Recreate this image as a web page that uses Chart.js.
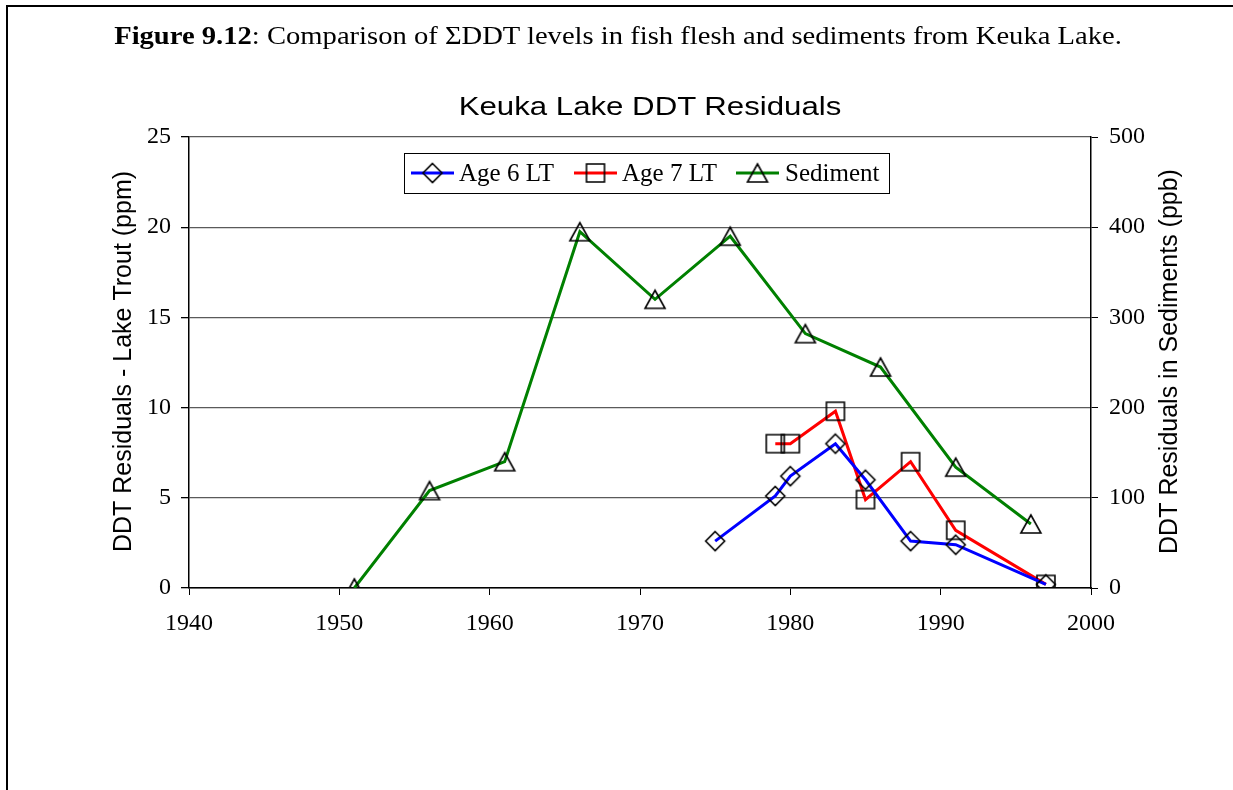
<!DOCTYPE html>
<html>
<head>
<meta charset="utf-8">
<title>Keuka Lake DDT Residuals</title>
<script src="https://cdn.jsdelivr.net/npm/chart.js@4/dist/chart.umd.min.js"></script>
<style>
  html, body { margin: 0; padding: 0; background: #fff; }
  #wrap { position: relative; width: 1233px; height: 790px; overflow: hidden; }
  #frame { position: absolute; left: 6px; top: 5px; width: 1300px; height: 900px;
           border-left: 2px solid #000; border-top: 2px solid #000; }
  .label { position: absolute; white-space: nowrap; line-height: 1; color: #000; }
  #caption { left: 618px; top: 23px; font-family: "Liberation Serif", "Times New Roman", serif;
             font-size: 26px; transform: translateX(-50%) scaleX(1.1); }
  #chartTitle { left: 650px; top: 93px; font-family: "Liberation Sans", Arial, sans-serif;
                font-size: 26px; transform: translateX(-50%) scaleX(1.2); }
  canvas { position: absolute; left: 0; top: 0; }
</style>
</head>
<body>
<div id="wrap">
  <div id="frame"></div>
  <canvas id="chart" width="1233" height="790"></canvas>
  <div id="caption" class="label"><b>Figure 9.12</b>: Comparison of ΣDDT levels in fish flesh and sediments from Keuka Lake.</div>
  <div id="chartTitle" class="label">Keuka Lake DDT Residuals</div>
</div>
<script>
// Sampling years and measured values
const age6Years = [1975, 1979, 1980, 1983, 1985, 1988, 1991, 1997];
const age6Ppm   = [2.6, 5.1, 6.2, 8.0, 6.0, 2.6, 2.4, 0.2];

const age7Years = [1979, 1980, 1983, 1985, 1988, 1991, 1997];
const age7Ppm   = [8.0, 8.0, 9.8, 4.9, 7.0, 3.2, 0.2];

const sedimentYears = [1951, 1956, 1961, 1966, 1971, 1976, 1981, 1986, 1991, 1996];
const sedimentPpb   = [0, 108, 140, 395, 320, 390, 282, 245, 134, 71];

const seriesNames = ['Age 6 LT', 'Age 7 LT', 'Sediment'];
const yearTicks   = [1940, 1950, 1960, 1970, 1980, 1990, 2000];
const leftAxisTitle  = 'DDT Residuals - Lake Trout (ppm)';
const rightAxisTitle = 'DDT Residuals in Sediments (ppb)';

// Hollow black marker glyphs used as point styles
function markerCanvas(kind) {
  const s = 24, m = s / 2;
  const c = document.createElement('canvas');
  c.width = s; c.height = s;
  const g = c.getContext('2d');
  g.strokeStyle = '#000';
  g.lineWidth = 1.6;
  g.beginPath();
  if (kind === 'diamond') {
    g.moveTo(m, m - 9.5); g.lineTo(m + 9.5, m); g.lineTo(m, m + 9.5); g.lineTo(m - 9.5, m);
  } else if (kind === 'square') {
    g.rect(m - 9, m - 9, 18, 18);
  } else {
    g.moveTo(m, m - 9); g.lineTo(m + 10, m + 9); g.lineTo(m - 10, m + 9);
  }
  g.closePath();
  g.stroke();
  return c;
}
const markers = [markerCanvas('diamond'), markerCanvas('square'), markerCanvas('triangle')];

const toPoints = (xs, ys) => xs.map((x, i) => ({ x: x, y: ys[i] }));

const serif = 'Liberation Serif';
const sans = 'Liberation Sans';

// Framed legend drawn inside the plot, each entry shows line + marker
const framedLegend = {
  id: 'framedLegend',
  afterDatasetsDraw(chart) {
    const ctx = chart.ctx;
    const box = { x: 404, y: 153, w: 485, h: 40 };
    const entries = [
      { lineX: 411, textX: 459 },
      { lineX: 574, textX: 622 },
      { lineX: 736, textX: 785 }
    ];
    const cy = box.y + box.h / 2;
    ctx.save();
    ctx.fillStyle = '#fff';
    ctx.fillRect(box.x, box.y, box.w, box.h);
    ctx.strokeStyle = '#000';
    ctx.lineWidth = 1;
    ctx.strokeRect(box.x + 0.5, box.y + 0.5, box.w, box.h);
    entries.forEach((e, i) => {
      const ds = chart.data.datasets[i];
      ctx.strokeStyle = ds.borderColor;
      ctx.lineWidth = 3;
      ctx.beginPath();
      ctx.moveTo(e.lineX, cy);
      ctx.lineTo(e.lineX + 43, cy);
      ctx.stroke();
      const mk = ds.pointStyle;
      ctx.drawImage(mk, e.lineX + 21.5 - mk.width / 2, cy - mk.height / 2);
      ctx.fillStyle = '#000';
      ctx.font = '25px "' + serif + '"';
      ctx.textBaseline = 'middle';
      ctx.textAlign = 'left';
      ctx.fillText(seriesNames[i], e.textX, cy + 1);
    });
    ctx.restore();
  }
};

// Both axis titles read bottom-to-top, set beside their tick labels
const axisTitles = {
  id: 'axisTitles',
  afterDraw(chart) {
    const ctx = chart.ctx;
    const area = chart.chartArea;
    const cy = (area.top + area.bottom) / 2 - 1;
    ctx.save();
    ctx.fillStyle = '#000';
    ctx.font = '25px "' + sans + '"';
    ctx.textAlign = 'center';
    ctx.textBaseline = 'alphabetic';
    [[chart.scales.y.left + 131, leftAxisTitle], [chart.scales.y2.left + 86, rightAxisTitle]]
      .forEach(([bx, text]) => {
        ctx.save();
        ctx.translate(bx, cy);
        ctx.rotate(-Math.PI / 2);
        ctx.fillText(text, 0, 0);
        ctx.restore();
      });
    ctx.restore();
  }
};

new Chart(document.getElementById('chart'), {
  type: 'line',
  data: {
    datasets: [
      {
        label: seriesNames[0],
        data: toPoints(age6Years, age6Ppm),
        yAxisID: 'y',
        borderColor: '#0000ff',
        borderWidth: 3,
        pointStyle: markers[0],
        pointRadius: 10,
        fill: false,
        tension: 0
      },
      {
        label: seriesNames[1],
        data: toPoints(age7Years, age7Ppm),
        yAxisID: 'y',
        borderColor: '#ff0000',
        borderWidth: 3,
        pointStyle: markers[1],
        pointRadius: 10,
        fill: false,
        tension: 0
      },
      {
        label: seriesNames[2],
        data: toPoints(sedimentYears, sedimentPpb),
        yAxisID: 'y2',
        borderColor: '#008000',
        borderWidth: 3,
        pointStyle: markers[2],
        pointRadius: 10,
        fill: false,
        tension: 0
      }
    ]
  },
  options: {
    responsive: false,
    animation: false,
    devicePixelRatio: 1,
    layout: { padding: { top: 137, left: 0, right: 0, bottom: 0 } },
    plugins: {
      legend: { display: false },
      tooltip: { enabled: false },
      title: { display: false }
    },
    scales: {
      x: {
        type: 'linear',
        min: yearTicks[0],
        max: yearTicks[yearTicks.length - 1],
        afterBuildTicks(scale) { scale.ticks = yearTicks.map(v => ({ value: v })); },
        ticks: {
          color: '#000',
          font: { family: serif, size: 24 },
          padding: 14,
          maxRotation: 0,
          callback: v => String(v)
        },
        grid: { drawOnChartArea: false, drawTicks: true, tickLength: 7, tickColor: '#000' },
        border: { color: '#000', width: 1.5 },
        afterFit(scale) { scale.height = 202; }
      },
      y: {
        position: 'left',
        min: 0,
        max: 25,
        ticks: {
          stepSize: 5,
          color: '#000',
          font: { family: serif, size: 24 },
          padding: 10
        },
        grid: { color: '#5a5a5a', lineWidth: 1.3, tickLength: 8, tickColor: '#000' },
        border: { color: '#000', width: 1.5 },
        afterFit(scale) { scale.width = 189; }
      },
      y2: {
        position: 'right',
        min: 0,
        max: 500,
        ticks: {
          stepSize: 100,
          color: '#000',
          font: { family: serif, size: 24 },
          padding: 11
        },
        grid: { drawOnChartArea: false, tickLength: 7, tickColor: '#000' },
        border: { color: '#000', width: 1.5 },
        afterFit(scale) { scale.width = 142; }
      }
    }
  },
  plugins: [framedLegend, axisTitles]
});
</script>
</body>
</html>
